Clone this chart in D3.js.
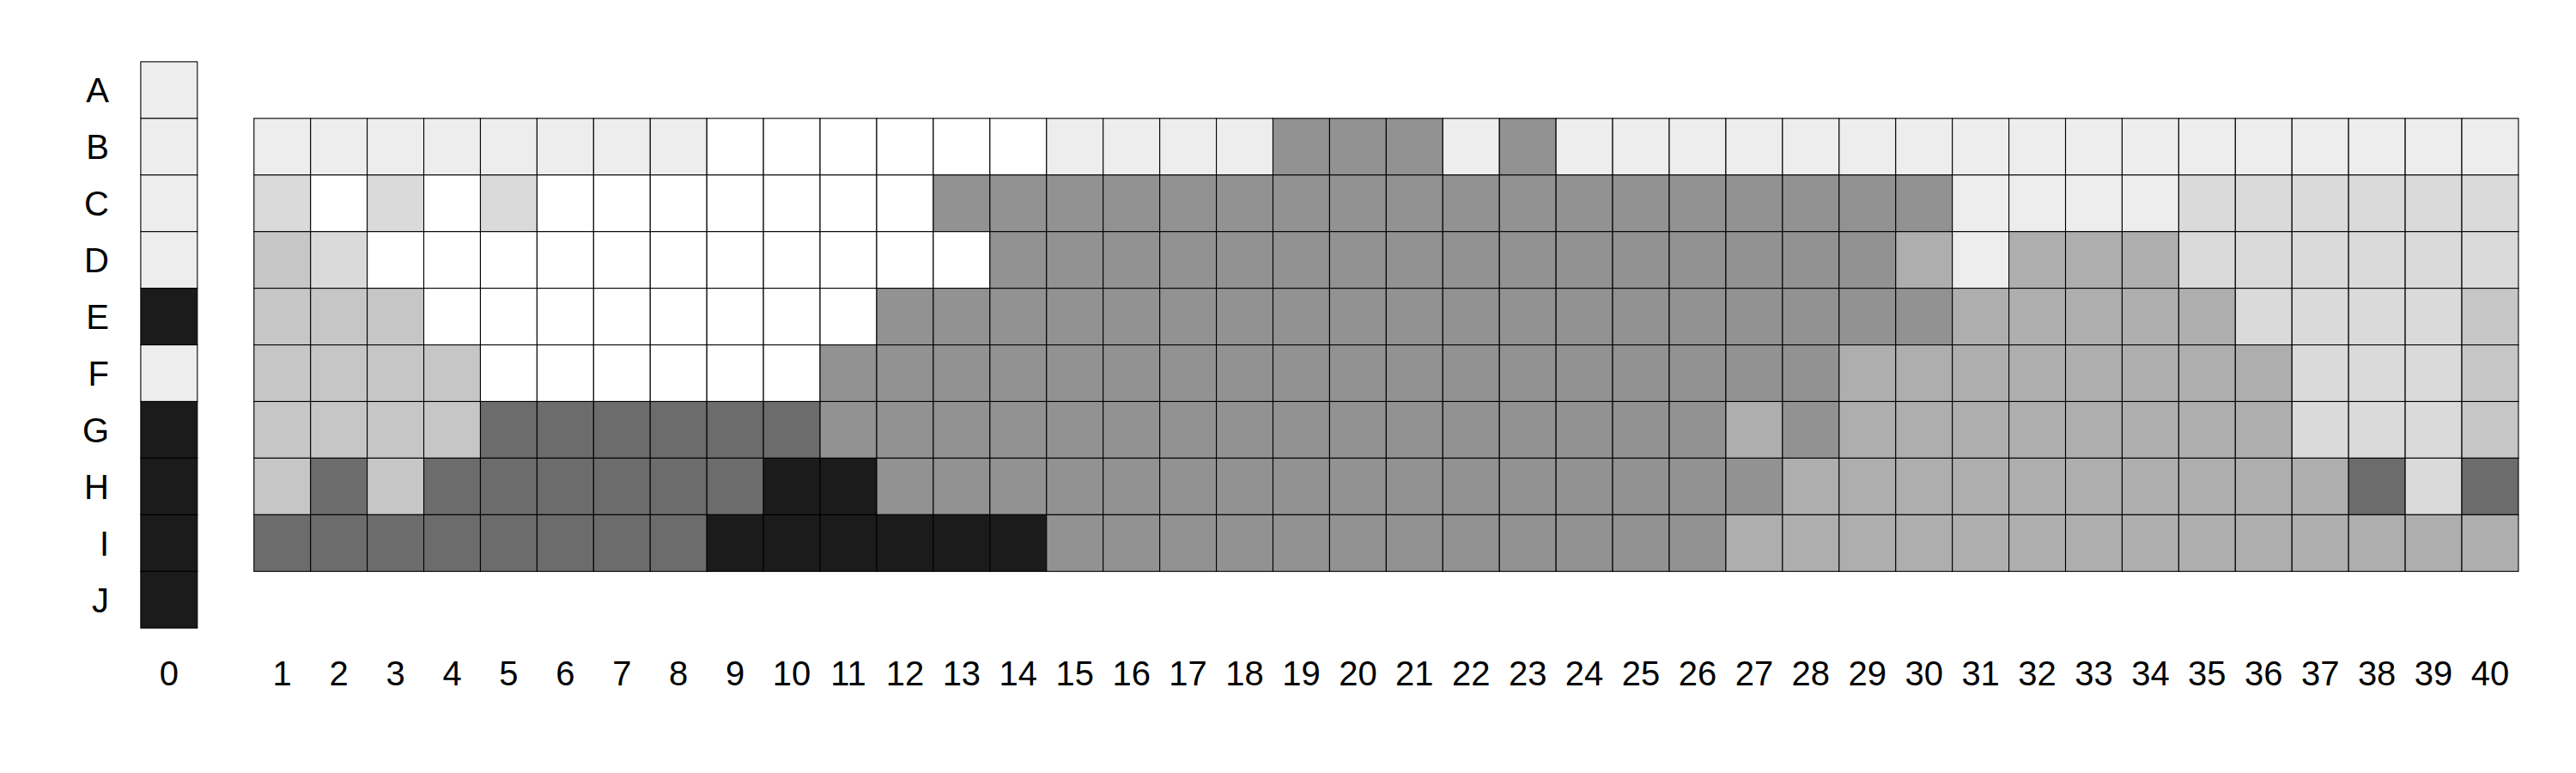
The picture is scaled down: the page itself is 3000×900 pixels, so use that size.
<!DOCTYPE html>
<html>
<head>
<meta charset="utf-8">
<script src="https://cdn.jsdelivr.net/npm/d3@7"></script>
<style>
  html, body { margin: 0; padding: 0; background: #ffffff; }
  svg { display: block; }
  text { font-family: "Liberation Sans", Arial, Helvetica, sans-serif; fill: #000; }
</style>
</head>
<body>
<script>
// ---- data ----
const rowLabels = ["A", "B", "C", "D", "E", "F", "G", "H", "I", "J"];
const columnLabels = d3.range(1, 41).map(String);
// level codes: 0 = white ... 7 = near black
const column0 = [1, 1, 1, 1, 7, 1, 7, 7, 7, 7];
const rowB = [1,1,1,1,1,1,1,1,0,0,0,0,0,0,1,1,1,1,5,5,5,1,5,1,1,1,1,1,1,1,1,1,1,1,1,1,1,1,1,1];
const rowC = [2,0,2,0,2,0,0,0,0,0,0,0,5,5,5,5,5,5,5,5,5,5,5,5,5,5,5,5,5,5,1,1,1,1,2,2,2,2,2,2];
const rowD = [3,2,0,0,0,0,0,0,0,0,0,0,0,5,5,5,5,5,5,5,5,5,5,5,5,5,5,5,5,4,1,4,4,4,2,2,2,2,2,2];
const rowE = [3,3,3,0,0,0,0,0,0,0,0,5,5,5,5,5,5,5,5,5,5,5,5,5,5,5,5,5,5,5,4,4,4,4,4,2,2,2,2,3];
const rowF = [3,3,3,3,0,0,0,0,0,0,5,5,5,5,5,5,5,5,5,5,5,5,5,5,5,5,5,5,4,4,4,4,4,4,4,4,2,2,2,3];
const rowG = [3,3,3,3,6,6,6,6,6,6,5,5,5,5,5,5,5,5,5,5,5,5,5,5,5,5,4,5,4,4,4,4,4,4,4,4,2,2,2,3];
const rowH = [3,6,3,6,6,6,6,6,6,7,7,5,5,5,5,5,5,5,5,5,5,5,5,5,5,5,5,4,4,4,4,4,4,4,4,4,4,6,2,6];
const rowI = [6,6,6,6,6,6,6,6,7,7,7,7,7,7,5,5,5,5,5,5,5,5,5,5,5,5,4,4,4,4,4,4,4,4,4,4,4,4,4,4];
const gridRows = ["B", "C", "D", "E", "F", "G", "H", "I"];
const gridValues = [rowB, rowC, rowD, rowE, rowF, rowG, rowH, rowI];

// ---- styles ----
const levelColors = ["#ffffff", "#ededed", "#dadada", "#c6c6c6", "#aeaeae", "#929292", "#6c6c6c", "#1b1b1b"];

const W = 3000, H = 900;
const svg = d3.select("body").append("svg").attr("width", W).attr("height", H);

const xDomain = ["0", "gap"].concat(columnLabels);
const x = d3.scaleBand().domain(xDomain).range([163.9, 163.9 + 42 * 65.93]).padding(0);
const y = d3.scaleBand().domain(rowLabels).range([71.9, 71.9 + 10 * 65.93]).padding(0);
const color = d3.scaleOrdinal().domain(d3.range(8)).range(levelColors);

// build cell list
const cells = [];
column0.forEach((v, i) => cells.push({ col: "0", row: rowLabels[i], v }));
gridValues.forEach((vals, ri) => {
  vals.forEach((v, ci) => cells.push({ col: columnLabels[ci], row: gridRows[ri], v }));
});

svg.append("g").selectAll("rect").data(cells).join("rect")
  .attr("x", d => x(d.col))
  .attr("y", d => y(d.row))
  .attr("width", x.bandwidth())
  .attr("height", y.bandwidth())
  .attr("fill", d => color(d.v))
  .attr("stroke", "#000000")
  .attr("stroke-width", 1.1);

// row labels
svg.append("g").selectAll("text").data(rowLabels).join("text")
  .attr("x", 127)
  .attr("y", d => y(d) + y.bandwidth() / 2)
  .attr("dy", "0.36em")
  .attr("text-anchor", "end")
  .attr("font-size", 40)
  .text(d => d);

// column labels
svg.append("g").selectAll("text").data(["0"].concat(columnLabels)).join("text")
  .attr("x", d => x(d) + x.bandwidth() / 2)
  .attr("y", 798)
  .attr("text-anchor", "middle")
  .attr("font-size", 40)
  .text(d => d);
</script>
</body>
</html>
